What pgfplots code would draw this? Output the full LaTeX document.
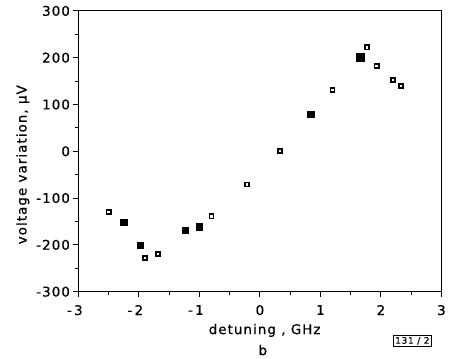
\documentclass[border=0pt]{standalone}
\usepackage{fontspec}
\setmainfont{DejaVu Sans}[LetterSpace=8, FakeBold=0.6]
\usepackage{pgfplots}
\pgfplotsset{compat=1.18}
\usetikzlibrary{calc}
\begin{document}
\begin{tikzpicture}
\begin{axis}[
  name=ax,
  scale only axis, width=366pt, height=283pt,
  xmin=-3, xmax=3, ymin=-300, ymax=300,
  xtick={-3,-2,-1,0,1,2,3}, ytick={-300,-200,-100,0,100,200,300},
  xticklabels={\llap{-\,}3,\llap{-\,}2,\llap{-\,}1,0,1,2,3},
  minor xtick={-2.5,-1.5,-0.5,0.5,1.5,2.5},
  minor ytick={-250,-150,-50,50,150,250},
  tick align=outside, major tick length=5pt, minor tick length=3pt,
  xtick pos=bottom, ytick pos=left,
  axis line style={line width=1.1pt},
  every tick/.style={black, line width=1pt},
  /pgf/number format/assume math mode=true,
  tick label style={font=\fontsize{13.5}{16}\selectfont},
  xticklabel style={yshift=-5pt},
  label style={font=\fontsize{13.5}{16}\selectfont},
  xlabel={detuning , GHz},
  ylabel={voltage variation, µV},
  xlabel style={at={(axis description cs:0.513,-0.138)}, anchor=center},
  ylabel style={at={(axis description cs:-0.153,0.452)}, anchor=center},
  clip=false,
]
\addplot[only marks, mark=square, mark size=2.1pt, line width=1.8pt, black] coordinates {
  (-2.50,-130) (-1.90,-228) (-1.68,-219) (-0.80,-139) (-0.21,-71)
  (0.33,0) (1.20,131) (1.77,222) (1.93,182) (2.20,152) (2.33,139)
};
\addplot[only marks, mark=square*, mark size=3.2pt, black] coordinates {
  (-2.25,-151) (-1.98,-201) (-1.23,-169) (-1.00,-161) (0.84,79)
};
\addplot[only marks, mark=square*, mark size=4pt, black] coordinates {
  (1.65,201)
};
\node[draw, line width=0.7pt, inner sep=2pt, font=\fontsize{9}{10}\selectfont] at (axis description cs:0.92,-0.175) {131 / 2};
\node[font=\fontsize{13.5}{16}\selectfont] at (axis description cs:0.508,-0.208) {b};
\coordinate (sw) at (axis description cs:0,0);
\coordinate (ne) at (axis description cs:1,1);
\end{axis}
\path ($(sw)+(-79pt,-64pt)$) rectangle ($(ne)+(4pt,11pt)$);
\end{tikzpicture}
\end{document}
